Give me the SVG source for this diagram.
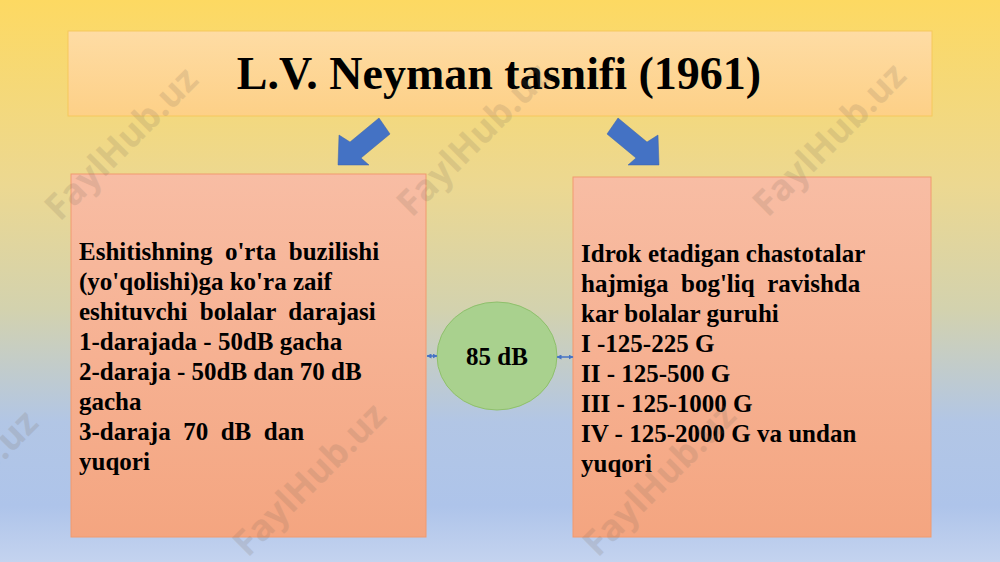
<svg xmlns="http://www.w3.org/2000/svg" width="1000" height="562" viewBox="0 0 1000 562">
<defs>
<linearGradient id="bg" x1="0" y1="0" x2="0" y2="1">
<stop offset="0" stop-color="#fdd962"/>
<stop offset="0.33" stop-color="#ecd891"/>
<stop offset="0.55" stop-color="#d3d2ae"/>
<stop offset="0.75" stop-color="#b2c6e5"/>
<stop offset="0.9" stop-color="#aec4ea"/>
<stop offset="1" stop-color="#c4d3ef"/>
</linearGradient>
<linearGradient id="tg" x1="0" y1="0" x2="0" y2="1">
<stop offset="0" stop-color="#fedca4"/>
<stop offset="1" stop-color="#fdd087"/>
</linearGradient>
<linearGradient id="bx" x1="0" y1="0" x2="0" y2="1">
<stop offset="0" stop-color="#f8bda4"/>
<stop offset="1" stop-color="#f4a580"/>
</linearGradient>
<marker id="ah" viewBox="0 0 10 10" refX="9" refY="5" markerWidth="5" markerHeight="5" orient="auto-start-reverse" markerUnits="userSpaceOnUse">
<path d="M0,0 L10,5 L0,10 z" fill="#4472c4"/>
</marker>
<style>
.box{fill:url(#bx);stroke:#f19a6e;stroke-width:1}
.t{font-family:"Liberation Serif","Times New Roman",serif;font-weight:bold;fill:#000;font-size:25px;white-space:pre}
.arr{fill:#4472c4;stroke:#3a62ad;stroke-width:0.5}
.wm{font-family:"Open Sans","Liberation Sans",sans-serif;font-weight:bold;font-size:36px;fill:#7a6a5a;opacity:0.17}
.con{stroke:#4472c4;stroke-width:1.5;fill:none}
</style>
</defs>
<rect x="0" y="0" width="1000" height="562" fill="url(#bg)"/>

<g id="title">
<rect x="68" y="31" width="864" height="85" fill="url(#tg)" stroke="#f6c85c" stroke-width="1"/>
<text x="499" y="89" text-anchor="middle" style="font-family:'Liberation Serif','Times New Roman',serif;font-weight:bold;font-size:46px">L.V. Neyman tasnifi (1961)</text>
</g>

<g id="arrow-left">
<polygon class="arr" points="379,118 390,134 361,158 369,165 338,165 339,135 350,142"/>
</g>
<g id="arrow-right">
<polygon class="arr" points="618,118 647,142 658,135 659,165 628,165 636,158 607,134"/>
</g>

<g id="left-box">
<rect class="box" x="71" y="174" width="355" height="363"/>
<text class="t" xml:space="preserve"><tspan x="79" y="260">Eshitishning  o'rta  buzilishi</tspan><tspan x="79" y="290">(yo'qolishi)ga ko'ra zaif</tspan><tspan x="79" y="320">eshituvchi  bolalar  darajasi</tspan><tspan x="79" y="350">1-darajada - 50dB gacha</tspan><tspan x="79" y="380">2-daraja - 50dB dan 70 dB</tspan><tspan x="79" y="410">gacha</tspan><tspan x="79" y="440">3-daraja  70  dB  dan</tspan><tspan x="79" y="470">yuqori</tspan></text>
</g>

<g id="right-box">
<rect class="box" x="573" y="177" width="358" height="360"/>
<text class="t" xml:space="preserve"><tspan x="581" y="262">Idrok etadigan chastotalar</tspan><tspan x="581" y="292">hajmiga  bog'liq  ravishda</tspan><tspan x="581" y="322">kar bolalar guruhi</tspan><tspan x="581" y="352">I -125-225 G</tspan><tspan x="581" y="382">II - 125-500 G</tspan><tspan x="581" y="412">III - 125-1000 G</tspan><tspan x="581" y="442">IV - 125-2000 G va undan</tspan><tspan x="581" y="472">yuqori</tspan></text>
</g>

<g id="center">
<ellipse cx="497" cy="356" rx="60" ry="54" fill="#a9d18e" stroke="#8fc06c" stroke-width="1"/>
<text class="t" x="497" y="365" text-anchor="middle">85 dB</text>
</g>

<g id="connectors">
<line class="con" x1="427" y1="356" x2="437" y2="356" marker-start="url(#ah)" marker-end="url(#ah)"/>
<line class="con" x1="557" y1="357" x2="573" y2="357" marker-start="url(#ah)" marker-end="url(#ah)"/>
</g>

<g id="watermarks">
<text class="wm" transform="translate(130,152) rotate(-45)" text-anchor="middle">FaylHub.uz</text>
<text class="wm" transform="translate(482,148) rotate(-45)" text-anchor="middle">FaylHub.uz</text>
<text class="wm" transform="translate(838,148) rotate(-45)" text-anchor="middle">FaylHub.uz</text>
<text class="wm" transform="translate(-30,495) rotate(-45)" text-anchor="middle">FaylHub.uz</text>
<text class="wm" transform="translate(318,488) rotate(-45)" text-anchor="middle">FaylHub.uz</text>
<text class="wm" transform="translate(668,488) rotate(-45)" text-anchor="middle">FaylHub.uz</text>
</g>
</svg>
